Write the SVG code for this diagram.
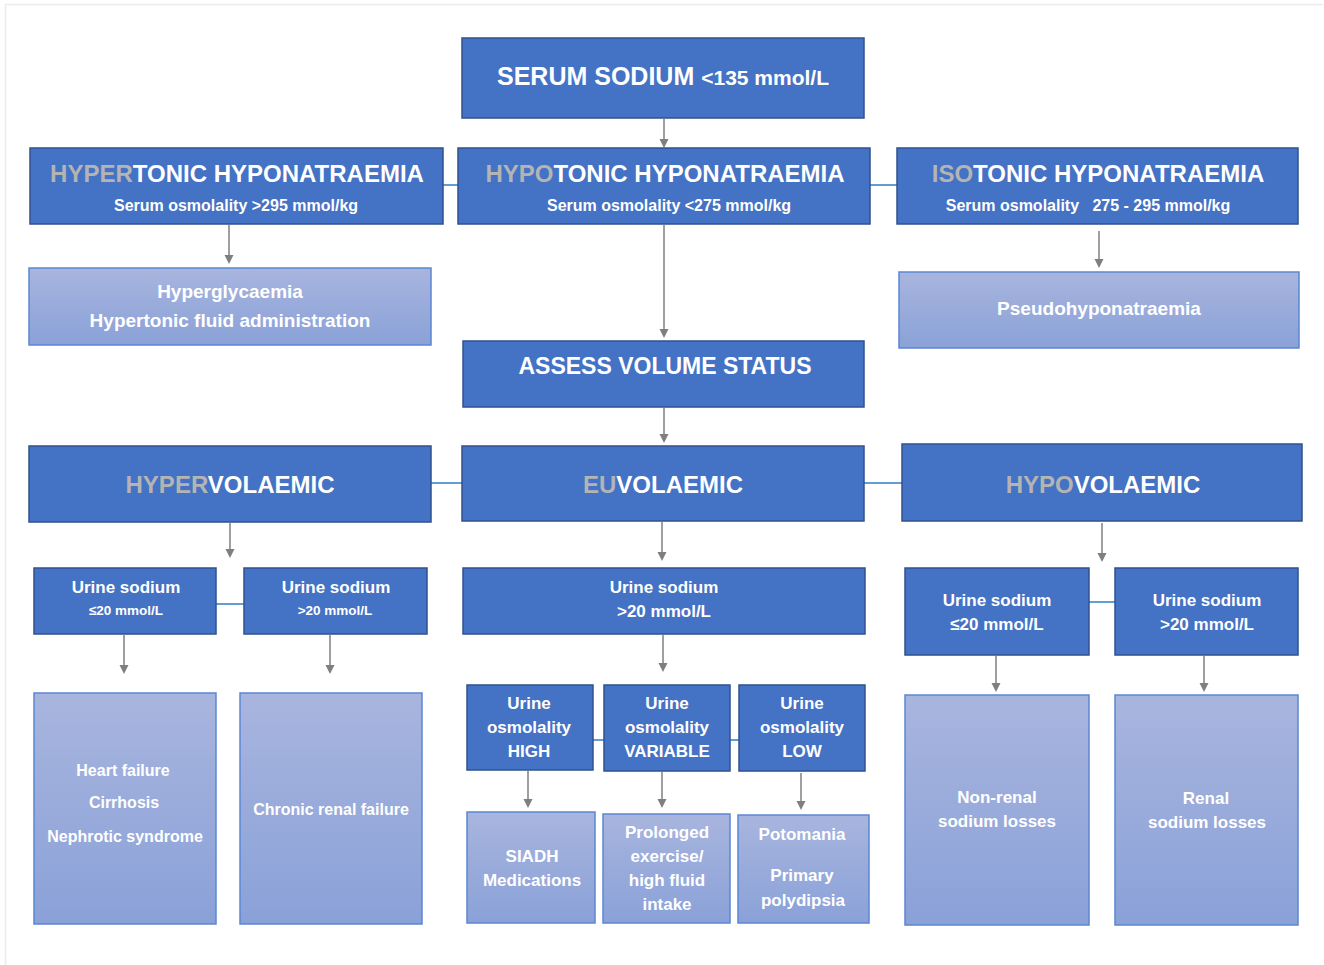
<svg xmlns="http://www.w3.org/2000/svg" width="1324" height="965" viewBox="0 0 1324 965">
<defs>
<linearGradient id="lg" x1="0" y1="0" x2="0" y2="1">
<stop offset="0" stop-color="#a8b5de"/>
<stop offset="1" stop-color="#8aa1d8"/>
</linearGradient>
<style>
.dk{fill:#4472c4;stroke:#2f528f;stroke-width:1.5}
.lt{fill:url(#lg);stroke:#5b86d2;stroke-width:1.5}
text{font-family:"Liberation Sans",Arial,sans-serif;fill:#fff;text-anchor:middle;font-weight:bold}
.h{font-size:24px}
.h2{font-size:24px}
.s{font-size:16px}
.m{font-size:17px}
.n{font-size:16px}
.l{font-size:19px}
.g{fill:#b4b4b4}
.ar{stroke:#7f7f7f;stroke-width:1.5;fill:none}
.ah{fill:#7f7f7f}
.bl{stroke:#2e7dc4;stroke-width:1.5;fill:none}
</style>
</defs>
<rect x="0" y="0" width="1324" height="965" fill="#fff"/>
<path d="M5.5,965 V4.5 H1323" fill="none" stroke="#ececec" stroke-width="1.5"/>

<g id="connectors">
<line class="ar" x1="664" y1="119" x2="664" y2="145"/>
<path class="ah" d="M664,148 l-4.5,-9 h9 z"/>
<line class="ar" x1="229" y1="225" x2="229" y2="262"/>
<path class="ah" d="M229,264 l-4.5,-9 h9 z"/>
<line class="ar" x1="664" y1="225" x2="664" y2="336"/>
<path class="ah" d="M664,338 l-4.5,-9 h9 z"/>
<line class="ar" x1="1099" y1="231" x2="1099" y2="266"/>
<path class="ah" d="M1099,268 l-4.5,-9 h9 z"/>
<line class="ar" x1="664" y1="408" x2="664" y2="441"/>
<path class="ah" d="M664,443 l-4.5,-9 h9 z"/>
<line class="ar" x1="230" y1="523" x2="230" y2="556"/>
<path class="ah" d="M230,558 l-4.5,-9 h9 z"/>
<line class="ar" x1="662" y1="522" x2="662" y2="559"/>
<path class="ah" d="M662,561 l-4.5,-9 h9 z"/>
<line class="ar" x1="1102" y1="523" x2="1102" y2="560"/>
<path class="ah" d="M1102,562 l-4.5,-9 h9 z"/>
<line class="ar" x1="124" y1="635" x2="124" y2="672"/>
<path class="ah" d="M124,674 l-4.5,-9 h9 z"/>
<line class="ar" x1="330" y1="635" x2="330" y2="672"/>
<path class="ah" d="M330,674 l-4.5,-9 h9 z"/>
<line class="ar" x1="663" y1="635" x2="663" y2="670"/>
<path class="ah" d="M663,672 l-4.5,-9 h9 z"/>
<line class="ar" x1="528" y1="771" x2="528" y2="806"/>
<path class="ah" d="M528,808 l-4.5,-9 h9 z"/>
<line class="ar" x1="662" y1="772" x2="662" y2="806"/>
<path class="ah" d="M662,808 l-4.5,-9 h9 z"/>
<line class="ar" x1="801" y1="773" x2="801" y2="808"/>
<path class="ah" d="M801,810 l-4.5,-9 h9 z"/>
<line class="ar" x1="996" y1="656" x2="996" y2="690"/>
<path class="ah" d="M996,692 l-4.5,-9 h9 z"/>
<line class="ar" x1="1204" y1="656" x2="1204" y2="690"/>
<path class="ah" d="M1204,692 l-4.5,-9 h9 z"/>
<line class="bl" x1="428" y1="185" x2="464" y2="185"/>
<line class="bl" x1="864" y1="185" x2="900" y2="185"/>
<line class="bl" x1="431" y1="483" x2="462" y2="483"/>
<line class="bl" x1="864" y1="483" x2="902" y2="483"/>
<line class="bl" x1="208" y1="604" x2="246" y2="604"/>
<line class="bl" x1="580" y1="740" x2="605" y2="740"/>
<line class="bl" x1="721" y1="740" x2="758" y2="740"/>
<line class="bl" x1="1083" y1="602" x2="1120" y2="602"/>
</g>

<g id="serum-sodium">
<rect class="dk" x="462" y="38" width="402" height="80"/>
<text x="663" y="85"><tspan font-size="25">SERUM SODIUM </tspan><tspan font-size="21">&lt;135 mmol/L</tspan></text>
</g>
<g id="hypertonic">
<rect class="dk" x="30" y="148" width="413" height="76"/>
<text class="h" x="237" y="182"><tspan class="g">HYPER</tspan>TONIC HYPONATRAEMIA</text>
<text class="s" x="236" y="211">Serum osmolality &gt;295 mmol/kg</text>
</g>
<g id="hypotonic">
<rect class="dk" x="458" y="148" width="412" height="76"/>
<text class="h" x="665" y="182"><tspan class="g">HYPO</tspan>TONIC HYPONATRAEMIA</text>
<text class="s" x="669" y="211">Serum osmolality &lt;275 mmol/kg</text>
</g>
<g id="isotonic">
<rect class="dk" x="897" y="148" width="401" height="76"/>
<text class="h" x="1098" y="182"><tspan class="g">ISO</tspan>TONIC HYPONATRAEMIA</text>
<text class="s" x="1088" y="211" xml:space="preserve">Serum osmolality   275 - 295 mmol/kg</text>
</g>
<g id="hypertonic-causes">
<rect class="lt" x="29" y="268" width="402" height="77"/>
<text class="l" x="230" y="298">Hyperglycaemia</text>
<text class="l" x="230" y="327">Hypertonic fluid administration</text>
</g>
<g id="pseudo">
<rect class="lt" x="899" y="272" width="400" height="76"/>
<text class="l" x="1099" y="315">Pseudohyponatraemia</text>
</g>
<g id="assess">
<rect class="dk" x="463" y="341" width="401" height="66"/>
<text font-size="23" x="665" y="374">ASSESS VOLUME STATUS</text>
</g>
<g id="hypervolaemic">
<rect class="dk" x="29" y="446" width="402" height="76"/>
<text class="h2" x="230" y="493"><tspan class="g">HYPER</tspan>VOLAEMIC</text>
</g>
<g id="euvolaemic">
<rect class="dk" x="462" y="446" width="402" height="75"/>
<text class="h2" x="663" y="493"><tspan class="g">EU</tspan>VOLAEMIC</text>
</g>
<g id="hypovolaemic">
<rect class="dk" x="902" y="444" width="400" height="77"/>
<text class="h2" x="1103" y="493"><tspan class="g">HYPO</tspan>VOLAEMIC</text>
</g>
<g id="hyper-una-low">
<rect class="dk" x="34" y="568" width="182" height="66"/>
<text class="m" x="126" y="593">Urine sodium</text>
<text font-size="13.5" x="126" y="615">≤20 mmol/L</text>
</g>
<g id="hyper-una-high">
<rect class="dk" x="244" y="568" width="183" height="66"/>
<text class="m" x="336" y="593">Urine sodium</text>
<text font-size="13.5" x="335" y="615">&gt;20 mmol/L</text>
</g>
<g id="hyper-cause-1">
<rect class="lt" x="34" y="693" width="182" height="231"/>
<text class="n" x="123" y="776">Heart failure</text>
<text class="n" x="124" y="808">Cirrhosis</text>
<text class="n" x="125" y="842">Nephrotic syndrome</text>
</g>
<g id="hyper-cause-2">
<rect class="lt" x="240" y="693" width="182" height="231"/>
<text class="n" x="331" y="815">Chronic renal failure</text>
</g>
<g id="eu-una">
<rect class="dk" x="463" y="568" width="402" height="66"/>
<text class="m" x="664" y="593">Urine sodium</text>
<text class="m" x="664" y="617">&gt;20 mmol/L</text>
</g>
<g id="osm-high">
<rect class="dk" x="467" y="685" width="126" height="85"/>
<text class="m" x="529" y="709">Urine</text>
<text class="m" x="529" y="733">osmolality</text>
<text class="m" x="529" y="757">HIGH</text>
</g>
<g id="osm-variable">
<rect class="dk" x="604" y="685" width="126" height="86"/>
<text class="m" x="667" y="709">Urine</text>
<text class="m" x="667" y="733">osmolality</text>
<text class="m" x="667" y="757">VARIABLE</text>
</g>
<g id="osm-low">
<rect class="dk" x="739" y="685" width="126" height="86"/>
<text class="m" x="802" y="709">Urine</text>
<text class="m" x="802" y="733">osmolality</text>
<text class="m" x="802" y="757">LOW</text>
</g>
<g id="eu-cause-1">
<rect class="lt" x="467" y="812" width="128" height="111"/>
<text class="m" x="532" y="862">SIADH</text>
<text class="m" x="532" y="886">Medications</text>
</g>
<g id="eu-cause-2">
<rect class="lt" x="603" y="814" width="127" height="109"/>
<text class="m" x="667" y="838">Prolonged</text>
<text class="m" x="667" y="862">exercise/</text>
<text class="m" x="667" y="886">high fluid</text>
<text class="m" x="667" y="910">intake</text>
</g>
<g id="eu-cause-3">
<rect class="lt" x="738" y="815" width="131" height="108"/>
<text class="m" x="802" y="840">Potomania</text>
<text class="m" x="802" y="881">Primary</text>
<text class="m" x="803" y="906">polydipsia</text>
</g>
<g id="hypo-una-low">
<rect class="dk" x="905" y="568" width="184" height="87"/>
<text class="m" x="997" y="606">Urine sodium</text>
<text class="m" x="997" y="630">≤20 mmol/L</text>
</g>
<g id="hypo-una-high">
<rect class="dk" x="1115" y="568" width="183" height="87"/>
<text class="m" x="1207" y="606">Urine sodium</text>
<text class="m" x="1207" y="630">&gt;20 mmol/L</text>
</g>
<g id="hypo-cause-1">
<rect class="lt" x="905" y="695" width="184" height="230"/>
<text class="m" x="997" y="803">Non-renal</text>
<text class="m" x="997" y="827">sodium losses</text>
</g>
<g id="hypo-cause-2">
<rect class="lt" x="1115" y="695" width="183" height="230"/>
<text class="m" x="1206" y="804">Renal</text>
<text class="m" x="1207" y="828">sodium losses</text>
</g>
</svg>
